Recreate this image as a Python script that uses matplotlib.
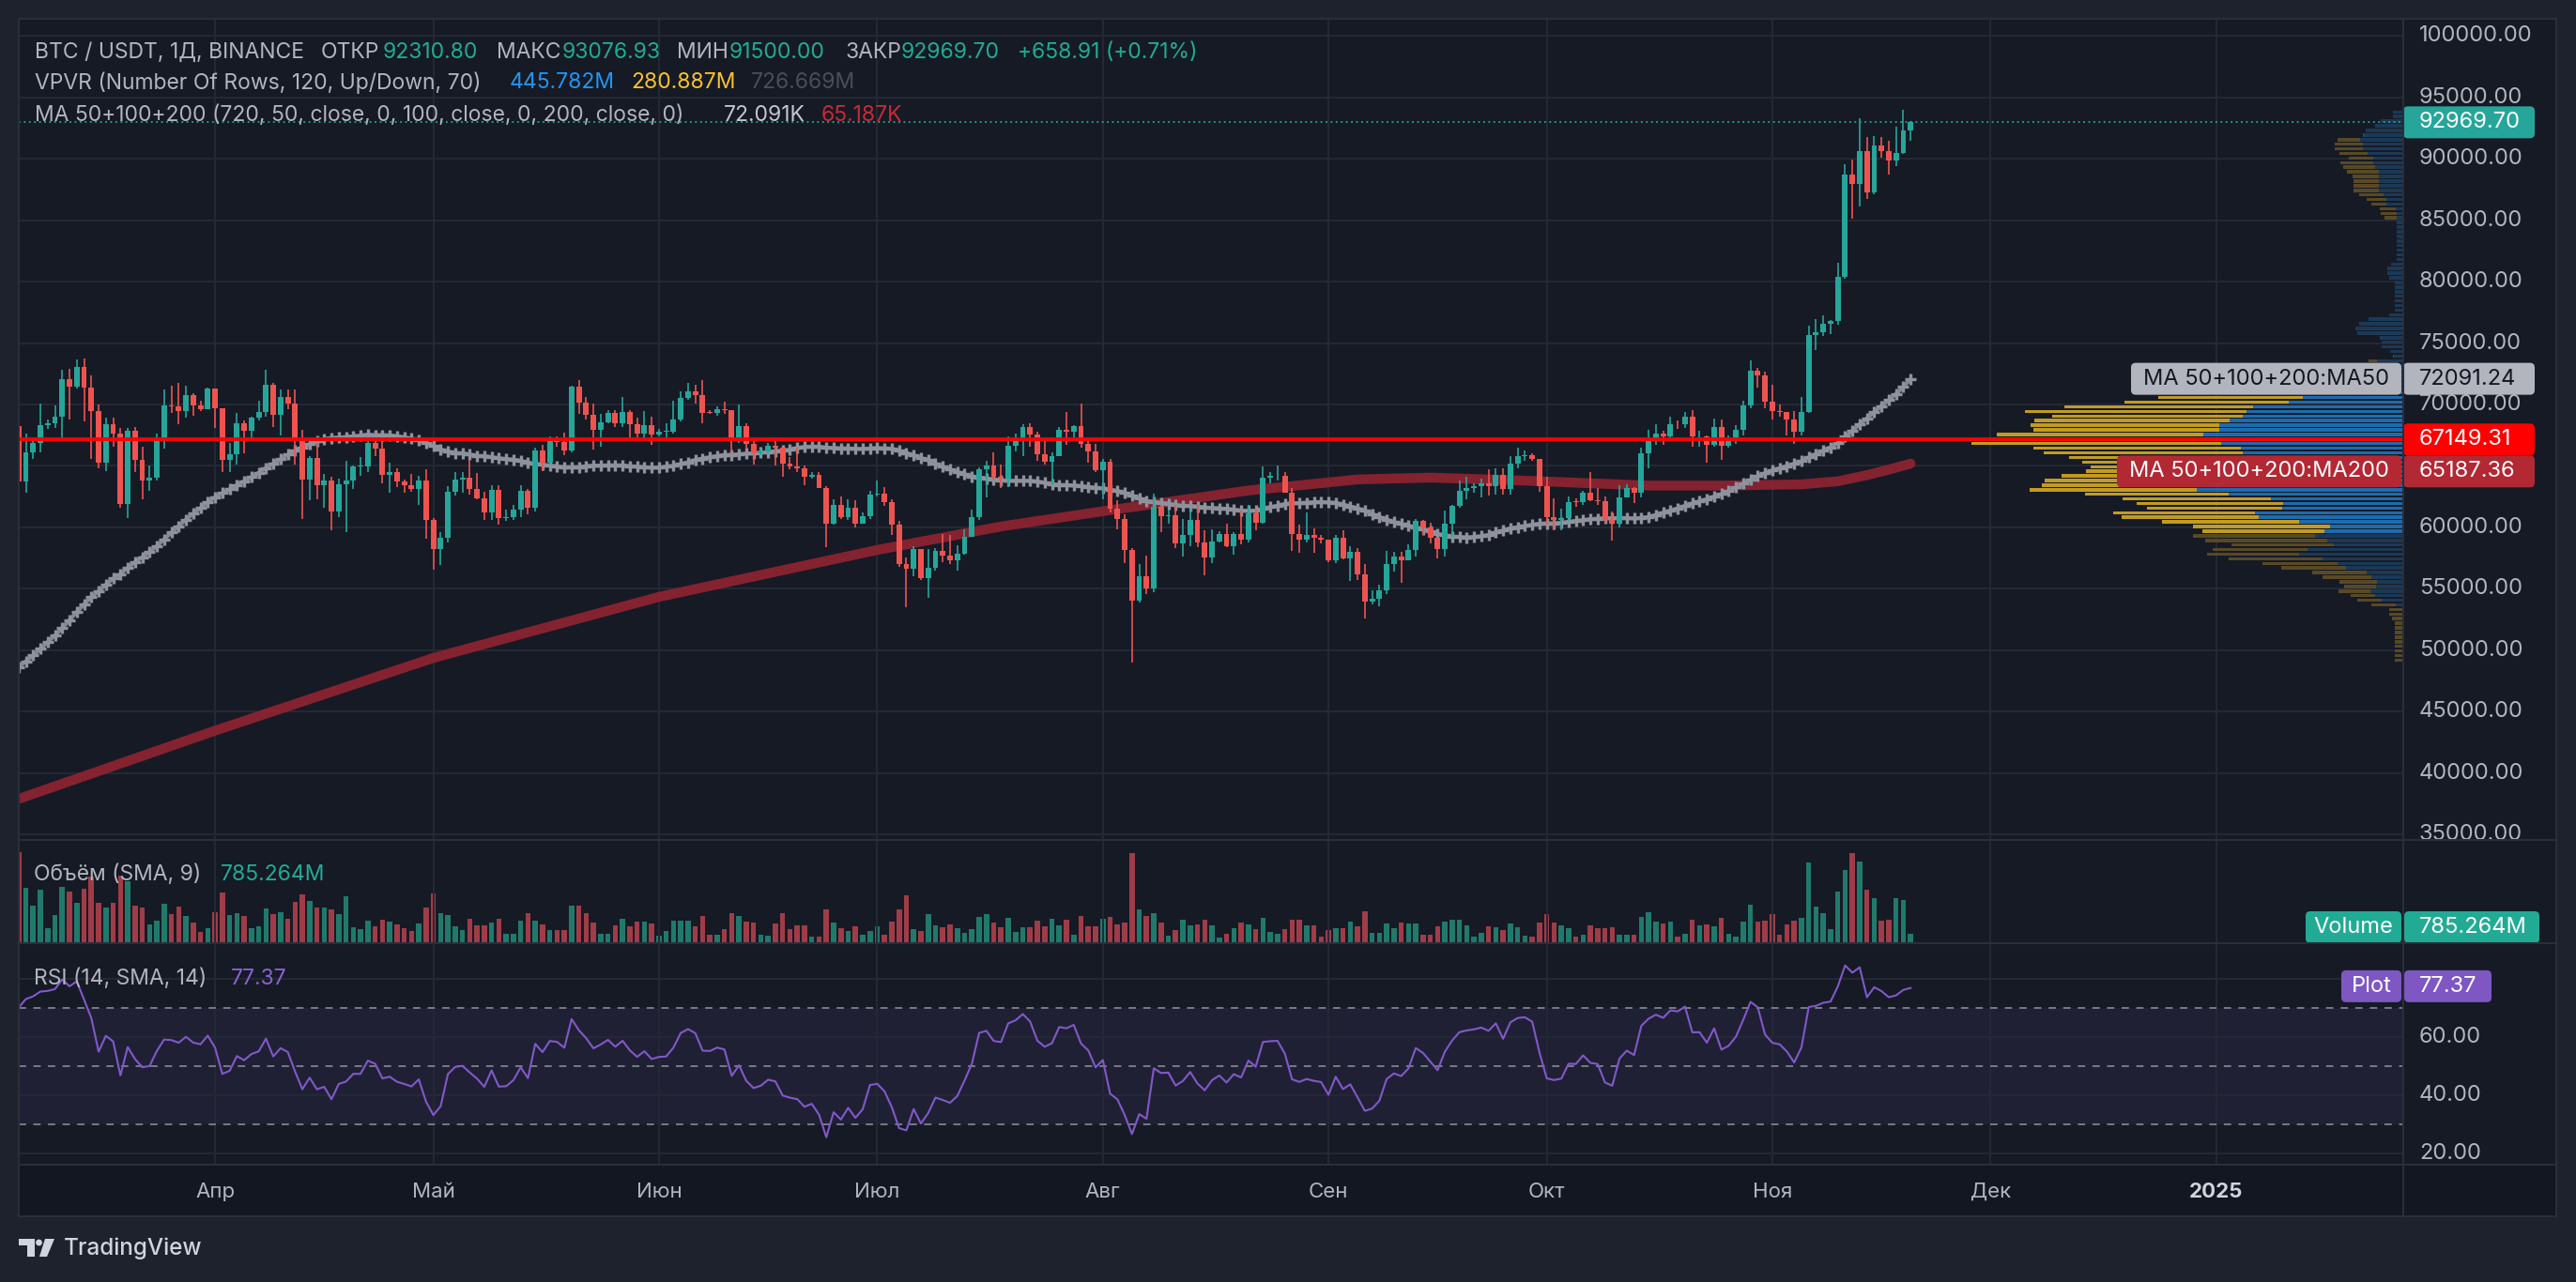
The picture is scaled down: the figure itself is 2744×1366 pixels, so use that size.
import numpy as np
import pandas as pd
import matplotlib
matplotlib.use("Agg")
import matplotlib.pyplot as plt
from matplotlib.patches import FancyBboxPatch, Rectangle, Polygon, Circle
from matplotlib.transforms import blended_transform_factory, Bbox, TransformedBbox

plt.rcParams['font.family'] = ['Inter', 'DejaVu Sans']

W, H = 2744, 1366

# ---- data (thousands of USDT, daily, Binance BTC/USDT) ----
# closes 15 Jan .. 4 Mar 2024, only feed the MA50 / RSI warm-up
warm_close_k = [42.50, 43.15, 42.74, 41.26, 41.62, 41.66, 41.55, 39.51, 39.85, 40.08,
                39.93, 41.82, 42.12, 42.03, 43.30, 42.94, 42.58,
                43.08, 43.19, 42.99, 42.58, 42.66, 43.08, 44.34, 45.29, 47.13, 47.75,
                48.29, 49.96, 49.70, 51.79, 51.91, 52.13, 51.66, 52.12, 51.78, 52.26,
                51.84, 51.30, 50.73, 51.57, 51.73, 54.48, 57.05, 62.43, 61.13,
                62.39, 61.99, 63.11, 68.25]

# visible candles 5 Mar .. 20 Nov 2024
close_k = [
    63.72, 66.07, 66.87, 68.30, 68.50, 69.02, 72.10, 71.48, 73.07, 71.39, 69.50, 65.30, 68.39, 67.61,
    61.94, 67.84, 65.50, 63.80, 64.04, 67.21, 69.96, 69.87, 69.45, 70.74, 69.89, 69.65, 71.33,
    69.70, 65.46, 65.96, 68.50, 67.84, 68.90, 69.36, 71.62, 69.14, 70.59, 70.06, 67.12, 63.92, 65.66,
    63.42, 63.79, 61.28, 63.47, 63.82, 64.94, 64.94, 66.84, 66.41, 64.28, 64.50, 63.77, 63.46, 63.12,
    63.84, 60.64,
    58.25, 59.12, 62.89, 63.89, 64.03, 63.16, 62.33, 61.19, 63.07, 60.79, 60.83, 61.48, 62.94, 61.58,
    66.27, 65.23, 67.05, 66.94, 66.28, 71.45, 70.14, 69.17, 67.91, 68.53, 69.28, 68.51, 69.39, 68.36,
    67.64, 68.35, 67.53,
    67.77, 67.82, 68.80, 70.57, 71.08, 70.76, 69.34, 69.31, 69.65, 69.51, 67.32, 68.24, 66.76, 66.01,
    66.19, 66.64, 66.49, 65.18, 64.96, 64.83, 64.10, 64.26, 63.21, 60.28, 61.81, 60.84, 61.61, 60.32,
    60.89, 62.68,
    62.77, 62.02, 60.21, 57.04, 56.64, 58.23, 55.85, 56.71, 58.05, 57.72, 57.34, 57.89, 59.20, 60.80,
    64.72, 65.04, 64.09, 63.99, 66.66, 67.14, 68.17, 67.58, 65.93, 65.37, 65.78, 67.91, 67.81, 68.26,
    66.78, 66.19, 64.63,
    65.35, 61.50, 60.70, 58.16, 54.02, 56.04, 55.03, 61.71, 60.88, 60.95, 58.71, 59.35, 60.61, 58.74,
    57.56, 58.87, 59.49, 58.43, 59.47, 59.01, 61.16, 60.38, 64.04, 64.16, 64.22, 62.83, 59.42, 59.03,
    59.37, 59.12, 58.97,
    57.30, 59.13, 57.48, 57.97, 56.16, 53.95, 54.16, 54.87, 57.04, 57.65, 57.34, 58.13, 60.50, 60.00,
    59.13, 58.21, 60.31, 61.76, 62.95, 63.20, 63.35, 63.58, 63.34, 64.26, 63.14, 65.18, 65.79, 65.89,
    65.60, 63.33,
    60.81, 60.63, 60.75, 62.07, 62.05, 62.82, 62.22, 62.13, 60.58, 60.27, 62.45, 63.19, 62.85, 66.05,
    67.04, 67.61, 67.40, 68.42, 68.36, 69.00, 67.37, 67.38, 66.68, 68.16, 66.63, 67.01, 67.93, 69.91,
    72.72, 72.33, 70.22,
    69.50, 69.37, 68.77, 67.81, 69.36, 75.64, 75.90, 76.54, 76.78, 80.37, 88.70, 87.96, 90.61, 87.25,
    91.07, 90.59, 89.86, 90.46, 92.3108, 92.9697]

high_k = [
    69.00, 67.64, 67.00, 70.10, 68.80, 69.90, 72.80, 72.92, 73.65, 73.78, 72.36, 70.00, 68.90, 68.90,
    68.10, 68.10, 68.20, 66.60, 65.00, 67.60, 71.20, 71.56, 71.73, 71.55, 70.90, 70.30, 71.40,
    71.30, 69.70, 66.90, 69.29, 68.72, 69.00, 70.28, 72.80, 71.76, 71.20, 71.26, 71.23, 67.93, 65.82,
    66.87, 64.36, 64.13, 64.00, 65.45, 65.00, 65.70, 67.23, 67.21, 67.08, 65.30, 64.80, 63.92, 64.36,
    64.23, 64.73,
    60.78, 59.60, 63.32, 64.50, 64.50, 65.50, 64.42, 62.88, 63.40, 63.46, 61.43, 61.82, 63.45, 63.10,
    66.45, 66.70, 67.40, 67.44, 67.70, 71.52, 71.95, 70.62, 70.08, 69.20, 69.56, 69.51, 70.60, 69.56,
    68.90, 69.50, 69.00,
    68.00, 68.44, 70.28, 71.06, 71.76, 71.63, 71.95, 69.56, 69.86, 70.20, 69.56, 69.99, 68.44, 67.30,
    66.42, 66.90, 67.30, 66.50, 65.73, 66.48, 65.07, 64.52, 64.52, 63.37, 62.30, 62.48, 62.29, 62.20,
    61.22, 63.00,
    63.85, 63.29, 62.28, 60.50, 57.55, 58.48, 58.24, 58.27, 58.30, 59.47, 59.38, 58.55, 59.85, 61.42,
    64.90, 65.39, 66.13, 65.11, 67.39, 67.62, 68.37, 68.48, 67.82, 67.10, 66.13, 68.20, 69.40, 68.32,
    70.08, 67.00, 66.82,
    65.59, 65.60, 62.20, 61.10, 58.30, 57.04, 57.73, 62.74, 61.79, 61.47, 61.84, 60.70, 61.54, 61.79,
    59.80, 59.85, 59.70, 60.26, 59.62, 61.40, 61.82, 61.42, 64.95, 64.50, 65.00, 64.50, 63.22, 60.23,
    61.19, 59.90, 59.38,
    59.00, 59.40, 59.80, 58.50, 58.33, 56.99, 54.85, 55.30, 58.10, 58.04, 57.98, 58.60, 60.67, 60.64,
    60.38, 59.21, 61.35, 61.80, 63.85, 64.13, 63.55, 64.00, 64.74, 64.82, 64.81, 65.80, 66.50, 66.26,
    66.00, 65.55,
    64.13, 62.39, 61.50, 62.48, 62.37, 62.98, 64.48, 63.18, 62.50, 61.32, 63.40, 63.50, 63.28, 66.50,
    67.95, 68.42, 67.89, 68.97, 68.70, 69.40, 69.52, 67.84, 67.45, 68.82, 68.77, 67.45, 68.30, 70.27,
    73.62, 72.96, 72.70,
    71.63, 70.00, 69.40, 69.49, 70.58, 76.40, 76.95, 77.24, 76.90, 81.50, 89.53, 89.96, 93.27, 91.79,
    91.85, 91.76, 91.45, 92.59, 94.00, 93.07693]

low_k = [
    59.00, 62.80, 65.60, 66.10, 68.00, 68.10, 67.20, 68.80, 71.30, 68.60, 65.60, 64.78, 64.60, 66.60,
    61.56, 60.78, 64.50, 62.26, 63.00, 63.80, 66.40, 69.30, 68.40, 68.90, 69.10, 69.50, 69.60,
    68.10, 64.50, 64.50, 65.10, 66.00, 67.20, 68.70, 69.00, 68.20, 67.50, 69.60, 65.10, 60.66, 62.20,
    62.30, 61.60, 59.77, 60.80, 59.60, 63.10, 64.20, 64.50, 65.80, 63.60, 62.80, 63.30, 62.80, 62.90,
    61.80, 59.10,
    56.55, 56.90, 58.80, 62.60, 62.80, 62.70, 62.30, 60.60, 60.60, 60.20, 60.50, 60.60, 60.80, 61.10,
    61.30, 64.60, 65.10, 66.60, 65.90, 66.10, 69.20, 68.80, 66.30, 66.60, 68.50, 68.20, 68.20, 67.30,
    67.10, 67.10, 66.70,
    67.40, 67.20, 67.60, 68.60, 70.40, 70.10, 68.50, 69.20, 69.10, 69.20, 66.10, 66.90, 66.30, 65.10,
    65.90, 66.00, 65.00, 64.10, 64.70, 64.50, 63.40, 64.00, 63.20, 58.40, 60.20, 60.70, 60.60, 60.00,
    60.30, 60.70,
    62.50, 61.75, 59.40, 56.80, 53.50, 56.00, 55.70, 54.30, 56.50, 57.20, 57.00, 56.50, 57.80, 59.30,
    60.60, 62.40, 63.90, 63.20, 63.30, 66.20, 65.80, 66.60, 65.40, 65.10, 63.40, 65.80, 66.70, 67.10,
    66.50, 65.30, 64.50,
    62.30, 61.20, 59.85, 57.10, 49.00, 53.90, 54.60, 54.70, 59.60, 60.30, 58.30, 57.60, 58.50, 58.40,
    56.10, 57.10, 58.80, 58.40, 57.80, 58.60, 58.80, 59.80, 60.30, 63.60, 63.80, 62.80, 58.10, 57.90,
    58.80, 57.90, 58.70,
    57.20, 57.10, 57.40, 55.60, 55.70, 52.55, 53.70, 53.60, 54.60, 56.40, 55.50, 57.30, 57.60, 59.40,
    58.70, 57.50, 57.60, 59.20, 61.60, 62.30, 62.80, 62.40, 62.60, 62.70, 62.70, 62.70, 64.80, 65.40,
    65.40, 62.90,
    60.20, 59.80, 59.80, 60.50, 61.70, 61.80, 62.10, 61.80, 60.30, 58.90, 60.00, 62.40, 62.00, 62.40,
    64.80, 66.70, 66.70, 67.10, 68.00, 68.10, 66.60, 66.60, 65.30, 66.60, 65.50, 66.50, 66.80, 67.50,
    69.70, 71.40, 69.70,
    68.80, 69.00, 67.50, 66.80, 67.50, 69.30, 74.40, 75.60, 75.70, 76.50, 80.20, 85.10, 86.10, 86.70,
    87.10, 90.10, 88.70, 89.40, 90.40, 91.50]

# daily volume, millions USDT
vol_m = [
    7650, 4640, 3140, 4450, 1260, 2360, 4720, 4320, 3380, 4560, 5550, 3380, 2990, 3380, 5690, 5160,
    3140, 2990, 1570, 1890, 3300, 2440, 3070, 2280, 1730, 940, 1260,
    2590, 4240, 2360, 2520, 2280, 1260, 1410, 2910, 2440, 2590, 2040, 3460, 4090, 3540, 2990, 2990,
    2830, 2440, 3930, 1340, 1180, 1890, 1410, 1970, 1810, 1570, 1260, 1020, 1650, 2990,
    4170, 2520, 2360, 1410, 1100, 2040, 1490, 1490, 1730, 2040, 790, 790, 1890, 2520, 1890, 1570,
    1100, 1100, 1100, 3140, 3140, 2520, 1730, 790, 790, 1490, 2040, 1410, 1810, 1810, 1650,
    630, 1020, 1890, 1890, 1890, 1410, 2280, 710, 710, 1180, 2520, 2280, 1810, 1730, 710, 630,
    1650, 2520, 1180, 1490, 1490, 550, 550, 2830, 1730, 1260, 1020, 1410, 710, 1020,
    1410, 710, 1810, 2830, 4010, 1180, 1020, 2440, 1490, 1340, 1570, 1260, 860, 1180, 2200, 2440,
    1730, 1340, 2120, 940, 1340, 1340, 1890, 1410, 2040, 1490, 1970, 710, 2280, 1410, 1410,
    2040, 2200, 1570, 1730, 7550, 2830, 2280, 2520, 1730, 630, 1100, 1970, 1490, 1570, 1970, 1490,
    470, 790, 1260, 1730, 1570, 1180, 2120, 940, 790, 1180, 1970, 1970, 1490, 1490, 550,
    1100, 1260, 1260, 1810, 1410, 2670, 860, 860, 1650, 1260, 1730, 1650, 1650, 710, 710, 1410,
    1810, 1970, 1970, 1490, 550, 860, 1410, 1340, 1100, 1650, 1340, 630, 550, 1730,
    2440, 1730, 1490, 1260, 550, 710, 1490, 1260, 1260, 1340, 710, 710, 710, 2200, 2590, 1810,
    1650, 1810, 550, 790, 1970, 1490, 1570, 1410, 2120, 790, 550, 1810, 3220, 1810, 1890,
    2440, 710, 1570, 1890, 2120, 6760, 3070, 2520, 1180, 4320, 6130, 7550, 6840, 4480, 3770, 1890,
    1970, 3770, 3620, 785.264]

# MA200 (date, value)
ma200_dates = ['2024-03-05', '2024-04-01', '2024-05-01', '2024-06-01', '2024-07-01', '2024-07-18',
               '2024-08-02', '2024-08-21', '2024-09-05', '2024-09-15', '2024-09-28', '2024-10-15',
               '2024-10-25', '2024-11-05', '2024-11-10', '2024-11-14', '2024-11-17', '2024-11-20']
ma200_vals = [37890, 43450, 49370, 54340, 58160, 60070, 61400, 63000, 63900, 64050, 63800, 63400,
              63400, 63500, 63750, 64250, 64700, 65187.36]

level_line = 67149.31
month_labels = ['Апр', 'Май', 'Июн', 'Июл', 'Авг', 'Сен', 'Окт', 'Ноя', 'Дек', '2025']

# ---- derived series ----
start = pd.Timestamp('2024-03-05')
close = np.array(close_k) * 1000
high = np.array(high_k) * 1000
low = np.array(low_k) * 1000
open_ = np.r_[warm_close_k[-1], close_k[:-1]] * 1000
high = np.maximum(high, np.maximum(open_, close))
low = np.minimum(low, np.minimum(open_, close))
vol = np.array(vol_m)
n = len(close)
x = np.arange(n)
up = close >= open_

allc = pd.Series(np.r_[np.array(warm_close_k) * 1000, close])
ma50 = allc.rolling(50).mean().values[-n:]
d = allc.diff()
g = d.clip(lower=0).ewm(alpha=1 / 14, adjust=False).mean()
l = (-d).clip(lower=0).ewm(alpha=1 / 14, adjust=False).mean()
rsi = (100 - 100 / (1 + g / l)).values[-n:]

ma200_x = [(pd.Timestamp(s) - start).days for s in ma200_dates]
month_x = [(m - start).days for m in pd.date_range('2024-04-01', '2025-01-01', freq='MS')]

# ---- figure ----
BG = '#161a25'
GRID = '#252935'
TXT = '#b2b5be'
UP, DN = '#26a69a', '#ef5350'

fig = plt.figure(figsize=(W / 100, H / 100), dpi=100)
fig.patch.set_facecolor('#1e222d')


def rect(x0, y0, x1, y1):
    return [x0 / W, 1 - y1 / H, (x1 - x0) / W, (y1 - y0) / H]


bg = fig.add_axes([0, 0, 1, 1], zorder=-5)
bg.set_xlim(0, W)
bg.set_ylim(H, 0)
bg.axis('off')
bg.add_patch(Rectangle((20, 20), 2703, 1276, fc=BG, ec='none'))
bg.add_patch(Rectangle((20, 1241), 2703, 55, fc='#131722', ec='none'))

ax = fig.add_axes(rect(20, 20, 2560, 895))
axv = fig.add_axes(rect(20, 895, 2560, 1005), sharex=ax)
axr = fig.add_axes(rect(20, 1005, 2560, 1241), sharex=ax)
xl = (0.03, 327.7)
for a in (ax, axv, axr):
    a.set_facecolor(BG)
    for s in a.spines.values():
        s.set_visible(False)
    a.tick_params(length=0, labelbottom=False, labelleft=False)
    a.set_xticks(month_x)
    a.grid(True, color=GRID, lw=1.4)
    a.set_xlim(*xl)

# main pane
ax.set_ylim(34553, 101398)
ax.set_yticks(np.arange(35000, 100001, 5000))
ax.vlines(x, low, high, colors=np.where(up, UP, DN), lw=1.2, zorder=3)
ax.bar(x, np.maximum(np.abs(close - open_), 60), bottom=np.minimum(open_, close), width=0.76,
       color=np.where(up, UP, DN), zorder=3)
ax.plot(ma200_x, ma200_vals, color='#8b2331', lw=7.5, solid_capstyle='round', alpha=0.95, zorder=2)
ax.plot(x, ma50, color='#868993', lw=3.0, zorder=2.5)
ax.plot(x, ma50, ls='none', marker='+', ms=9, mew=2.4, color='#8f929c', zorder=2.5)

# volume profile (visible range)
nrows = 120
edges = np.linspace(low.min(), high.max(), nrows + 1)
step = edges[1] - edges[0]
ov_lo = np.maximum(low[:, None], edges[None, :-1])
ov_hi = np.minimum(high[:, None], edges[None, 1:])
share = np.clip(ov_hi - ov_lo, 0, None) / (high - low)[:, None]
rows = share * vol[:, None]
up_rows = rows[up].sum(0)
dn_rows = rows[~up].sum(0)
tot = up_rows + dn_rows
poc = int(tot.argmax())
a0, b0, acc = poc, poc, tot[poc]
while acc < 0.7 * tot.sum():
    na = tot[a0 - 1] if a0 > 0 else -1
    nb = tot[b0 + 1] if b0 < nrows - 1 else -1
    if nb >= na:
        b0 += 1
        acc += tot[b0]
    else:
        a0 -= 1
        acc += tot[a0]
va = np.zeros(nrows, bool)
va[a0:b0 + 1] = True
centers = (edges[:-1] + edges[1:]) / 2

axp = ax.twiny()
axp.set_xlim(tot.max() * 2540 / 460, 0)
axp.axis('off')
axp.barh(centers, up_rows, height=step * 0.72, left=0,
         color=np.where(va, '#1d6bb0', '#1b3956'), zorder=1)
axp.barh(centers, dn_rows, height=step * 0.72, left=up_rows,
         color=np.where(va, '#c29b24', '#584925'), zorder=1)
axp.axhline(level_line, color='#ff0000', lw=2.8, zorder=4)
axp.axhline(close[-1], color=UP, lw=1.3, ls=(0, (1, 2)), zorder=4)
axp.set_ylim(ax.get_ylim())

# volume pane
axv.set_ylim(0, 8640)
axv.set_yticks([])
axv.bar(x, vol, width=0.72, color=np.where(up, '#207a6c', '#a03c47'))

# RSI pane
axr.set_ylim(16.3, 92.1)
axr.set_yticks([20, 40, 60, 80])
axr.axhspan(30, 70, color='#7e57c2', alpha=0.1, lw=0)
for lv in (70, 50, 30):
    axr.axhline(lv, color='#787b86', lw=1.4, ls=(0, (4, 4)))
axr.plot(x, rsi, color='#8059c8', lw=1.5)

# ---- overlay: axis labels, tags, headers ----
ov = fig.add_axes([0, 0, 1, 1], zorder=10)
ov.set_xlim(0, W)
ov.set_ylim(H, 0)
ov.axis('off')
ov.patch.set_alpha(0)

for yy in (20, 895, 1005, 1241, 1296):
    ov.plot([20, 2723], [yy, yy], color='#2a2e39', lw=1.5)
for xx in (20, 2560, 2723):
    ov.plot([xx, xx], [20, 1296], color='#2a2e39', lw=1.5)

clip = TransformedBbox(Bbox([[2560 / W, 1 - 895 / H], [2723 / W, 1 - 20 / H]]), fig.transFigure)
bt = blended_transform_factory(ax.transAxes, ax.transData)
xlab = (2577 - 20) / 2540
for p in np.arange(35000, 100001, 5000):
    if p == 65000:
        continue
    t = ax.text(xlab, p, f'{p:.2f}', transform=bt, color=TXT, fontsize=17, va='center', ha='left',
                clip_on=True)
    t.set_clip_box(clip)
btr = blended_transform_factory(axr.transAxes, axr.transData)
for p in (60, 40, 20):
    axr.text(xlab, p, f'{p:.2f}', transform=btr, color=TXT, fontsize=17, va='center', ha='left')

tt = blended_transform_factory(axr.transData, fig.transFigure)
for mx, lab in zip(month_x, month_labels):
    axr.text(mx, 1 - 1270 / H, lab, transform=tt, color='#d1d4dc' if lab == '2025' else TXT,
             fontsize=16, ha='center', va='center', fontweight='bold' if lab == '2025' else 'normal')


def ypix(axis, v):
    return H - axis.transData.transform((0, v))[1]


def box(x0, x1, yc, fc):
    ov.add_patch(FancyBboxPatch((x0, yc - 17), x1 - x0, 34,
                                boxstyle='round,pad=0,rounding_size=5', fc=fc, ec='none'))


tags = [
    (92969.70, '92969.70', UP, 'white', None, None),
    (72091.24, '72091.24', '#b2b5be', '#131722', 'MA 50+100+200:MA50', 2270),
    (level_line, '67149.31', '#ff0000', 'white', None, None),
    (65187.36, '65187.36', '#b22833', 'white', 'MA 50+100+200:MA200', 2255),
]
placed = []
for v, s, fc, tc, name, nx in sorted(tags, key=lambda r: -r[0]):
    yc = ypix(ax, v)
    if placed and yc - placed[-1] < 34:
        yc = placed[-1] + 34
    placed.append(yc)
    box(2560, 2700, yc, fc)
    ov.text(2577, yc, s, color=tc, fontsize=17, va='center', ha='left')
    if name:
        box(nx, 2558, yc, fc)
        ov.text((nx + 2558) / 2, yc, name, color=tc, fontsize=17, va='center', ha='center')

yv = min(ypix(axv, vol[-1]), 1005 - 17)
box(2456, 2558, yv, '#22ab94')
box(2561, 2705, yv, '#22ab94')
ov.text(2507, yv, 'Volume', color='white', fontsize=17, va='center', ha='center')
ov.text(2577, yv, '785.264M', color='white', fontsize=17, va='center', ha='left')

yr = ypix(axr, 77.37)
box(2494, 2558, yr, '#7e57c2')
box(2561, 2654, yr, '#7e57c2')
ov.text(2526, yr, 'Plot', color='white', fontsize=17, va='center', ha='center')
ov.text(2577, yr, '77.37', color='white', fontsize=17, va='center', ha='left')

TEAL = '#22ab94'
header = [
    (56, [(37, 'BTC / USDT, 1Д, BINANCE', TXT), (342, 'ОТКР', TXT), (408, '92310.80', TEAL),
          (529, 'МАКС', TXT), (599, '93076.93', TEAL), (721, 'МИН', TXT), (777, '91500.00', TEAL),
          (900, 'ЗАКР', TXT), (960, '92969.70', TEAL), (1084, '+658.91 (+0.71%)', TEAL)]),
    (88, [(37, 'VPVR (Number Of Rows, 120, Up/Down, 70)', TXT), (543, '445.782M', '#2196f3'),
          (672, '280.887M', '#f9c22e'), (800, '726.669M', '#4b4e58')]),
    (123, [(37, 'MA 50+100+200 (720, 50, close, 0, 100, close, 0, 200, close, 0)', TXT),
           (771, '72.091K', '#c3c6ce'), (875, '65.187K', '#c42b38')]),
    (932, [(36, 'Объём (SMA, 9)', TXT), (235, '785.264M', TEAL)]),
    (1043, [(36, 'RSI (14, SMA, 14)', TXT), (246, '77.37', '#8b62d6')]),
]
for yy, parts in header:
    for xx, s, c in parts:
        ov.text(xx, yy, s, color=c, fontsize=16.5, va='center', ha='left')

# footer logo
LOGO = '#d1d4dc'
ov.add_patch(Polygon([(20, 1320), (37, 1320), (37, 1339), (29, 1339), (29, 1327), (20, 1327)],
                     closed=True, fc=LOGO, ec='none'))
ov.add_patch(Circle((41.5, 1324), 3.4, fc=LOGO, ec='none'))
ov.add_patch(Polygon([(48, 1320), (58, 1320), (50, 1339), (42, 1339)], closed=True, fc=LOGO, ec='none'))
ov.text(68, 1330, 'TradingView', color=LOGO, fontsize=17.5, fontweight='medium', va='center', ha='left')

fig.savefig('out.png', dpi=100, facecolor=fig.get_facecolor())
